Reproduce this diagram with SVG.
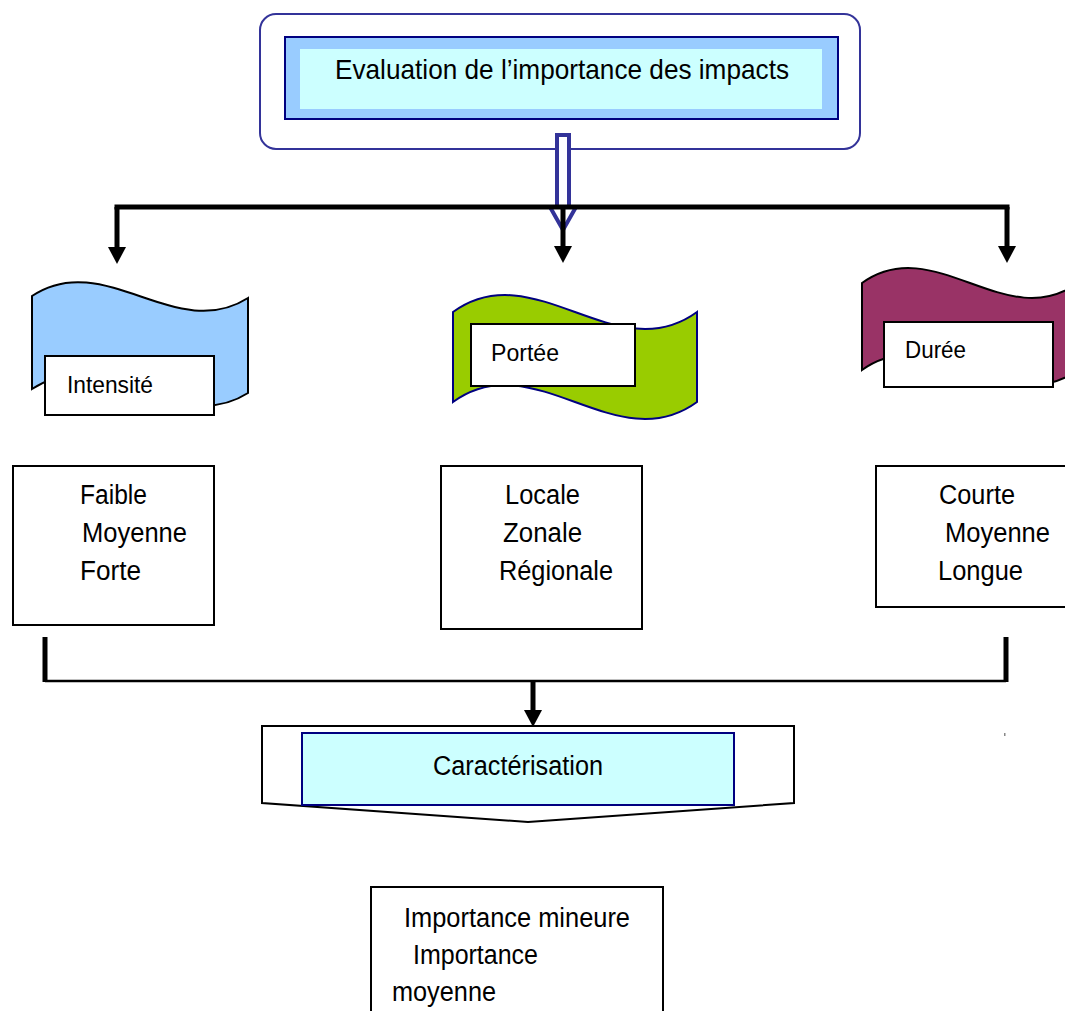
<svg xmlns="http://www.w3.org/2000/svg" width="1065" height="1011" viewBox="0 0 1065 1011">
<style>
text { font-family: "Liberation Sans", Arial, sans-serif; fill: #000; }
.big { font-size: 27px; }
.lbl { font-size: 24px; }
.box { fill: #fff; stroke: #000; stroke-width: 2; }
.conn { fill: none; stroke: #000; stroke-width: 5; }
.thin { fill: none; stroke: #000; stroke-width: 2.5; }
</style>
<defs>
<marker id="ah" markerUnits="userSpaceOnUse" viewBox="0 0 17 18" refX="0" refY="9" markerWidth="17" markerHeight="18" orient="auto">
<path d="M0,0 L17,9 L0,18 Z" fill="#000"/>
</marker>
</defs>
<rect width="1065" height="1011" fill="#fff"/>

<g id="title">
<rect x="260" y="14" width="600" height="135" rx="16" fill="#fff" stroke="#333399" stroke-width="2"/>
<rect x="285" y="37" width="553" height="82" fill="#99CCFF" stroke="#000080" stroke-width="2"/>
<rect x="300" y="49" width="522" height="60" fill="#CCFFFF"/>
<text x="335" y="79" font-size="28" textLength="454" lengthAdjust="spacingAndGlyphs">Evaluation de l’importance des impacts</text>
</g>

<g id="connectors">
<polygon points="557,135 569,135 569,207 576,207 563,230 550,207 557,207" fill="#fff" stroke="#333399" stroke-width="4" stroke-linejoin="miter"/>
<path class="conn" d="M117,207 H1007" stroke-linecap="square"/>
<path class="conn" d="M117,207 V247" marker-end="url(#ah)"/>
<path class="conn" d="M563,207 V246" marker-end="url(#ah)"/>
<path class="conn" d="M1007,207 V246" marker-end="url(#ah)"/>
<path class="conn" d="M45,637 V682" stroke-width="4.5"/>
<path class="conn" d="M1006,637 V682" stroke-width="4.5"/>
<path class="thin" d="M45,681 H1006"/>
<path class="conn" d="M533,681 V710" stroke-width="4.5" marker-end="url(#ah)"/>
<rect x="1004" y="733" width="1.5" height="3" fill="#888"/>
</g>

<g id="intensite">
<path d="M32,296 C104,248 176,344 248,298 L248,393 C176,439 104,341 32,389 Z" fill="#99CCFF" stroke="#000" stroke-width="2"/>
<rect class="box" x="45" y="356" width="169" height="59"/>
<text class="lbl" x="67" y="393" textLength="86" lengthAdjust="spacingAndGlyphs">Intensité</text>
</g>

<g id="portee">
<path d="M453,312 C534,253 616,371 697,312 L697,402 C616,461 534,343 453,402 Z" fill="#99CC00" stroke="#000080" stroke-width="2"/>
<rect class="box" x="471" y="324" width="164" height="62"/>
<text class="lbl" x="491" y="361" textLength="68" lengthAdjust="spacingAndGlyphs">Portée</text>
</g>

<g id="duree">
<path d="M862,283 C934,231 1006,335 1078,283 L1078,370 C1006,422 934,318 862,370 Z" fill="#993366" stroke="#000" stroke-width="2"/>
<rect class="box" x="884" y="322" width="169" height="65"/>
<text class="lbl" x="905" y="358" textLength="61" lengthAdjust="spacingAndGlyphs">Durée</text>
</g>

<g id="valeurs-intensite">
<rect class="box" x="13" y="466" width="201" height="159"/>
<text class="big" x="80" y="504" textLength="67" lengthAdjust="spacingAndGlyphs">Faible</text>
<text class="big" x="82" y="542" textLength="105" lengthAdjust="spacingAndGlyphs">Moyenne</text>
<text class="big" x="80" y="580" textLength="61" lengthAdjust="spacingAndGlyphs">Forte</text>
</g>

<g id="valeurs-portee">
<rect class="box" x="441" y="466" width="201" height="163"/>
<text class="big" x="505" y="504" textLength="75" lengthAdjust="spacingAndGlyphs">Locale</text>
<text class="big" x="503" y="542" textLength="79" lengthAdjust="spacingAndGlyphs">Zonale</text>
<text class="big" x="499" y="580" textLength="114" lengthAdjust="spacingAndGlyphs">Régionale</text>
</g>

<g id="valeurs-duree">
<rect class="box" x="876" y="466" width="200" height="141"/>
<text class="big" x="939" y="504" textLength="76" lengthAdjust="spacingAndGlyphs">Courte</text>
<text class="big" x="945" y="542" textLength="105" lengthAdjust="spacingAndGlyphs">Moyenne</text>
<text class="big" x="938" y="580" textLength="85" lengthAdjust="spacingAndGlyphs">Longue</text>
</g>

<g id="caracterisation">
<polygon class="box" points="262,726 794,726 794,803 528,822 262,803"/>
<rect x="302" y="733" width="432" height="72" fill="#CCFFFF" stroke="#000080" stroke-width="2"/>
<text class="big" x="433" y="775" textLength="170" lengthAdjust="spacingAndGlyphs">Caractérisation</text>
</g>

<g id="importance">
<rect class="box" x="371" y="887" width="292" height="140"/>
<text class="big" x="404" y="927" textLength="226" lengthAdjust="spacingAndGlyphs">Importance mineure</text>
<text class="big" x="413" y="964" textLength="125" lengthAdjust="spacingAndGlyphs">Importance</text>
<text class="big" x="392" y="1001" textLength="104" lengthAdjust="spacingAndGlyphs">moyenne</text>
</g>
</svg>
